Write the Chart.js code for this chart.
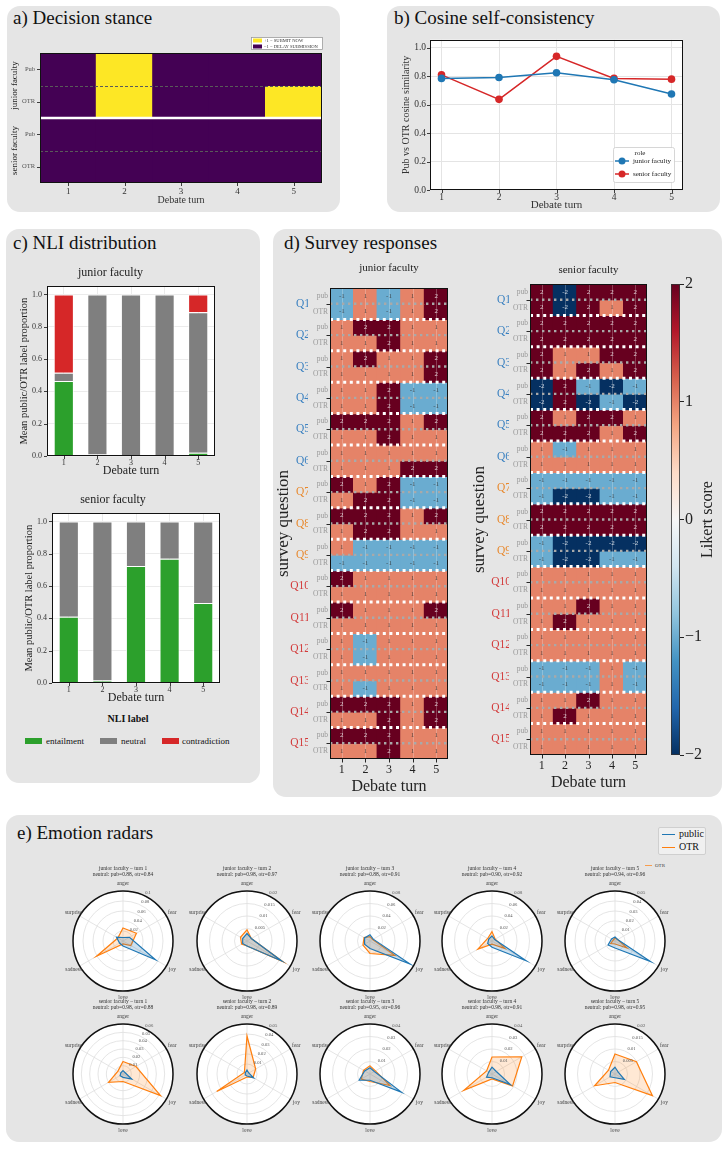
<!DOCTYPE html>
<html><head><meta charset="utf-8"><title>Debate analysis</title>
<script src="https://cdn.jsdelivr.net/npm/chart.js@4.4.1/dist/chart.umd.min.js"></script>
<style>
html,body{margin:0;padding:0;background:#fff;}
body{width:728px;height:1149px;position:relative;overflow:hidden;font-family:"Liberation Serif","DejaVu Serif",serif;color:#111;}
.panel{position:absolute;background:#e5e5e5;border-radius:13px;}
.t{position:absolute;white-space:nowrap;line-height:1;}
.sw{position:absolute;}
canvas{position:absolute;}
</style></head><body>
<div class="panel" style="left:7px;top:6px;width:333px;height:206px"></div>
<div class="panel" style="left:387px;top:6px;width:333px;height:206px"></div>
<div class="panel" style="left:6px;top:229px;width:254px;height:554px"></div>
<div class="panel" style="left:273px;top:229px;width:449px;height:568px"></div>
<div class="panel" style="left:6px;top:815px;width:716px;height:327px"></div>
<div class="t" style="left:13px;top:8px;font-size:19px">a) Decision stance</div>
<div class="t" style="left:394px;top:8px;font-size:19px">b) Cosine self-consistency</div>
<div class="t" style="left:13px;top:233px;font-size:19px">c) NLI distribution</div>
<div class="t" style="left:284px;top:233px;font-size:19px">d) Survey responses</div>
<div class="t" style="left:17px;top:823px;font-size:19px">e) Emotion radars</div>

<div class="t" style="left:78px;top:714px;width:100px;text-align:center;font-size:10px;font-weight:bold">NLI label</div>
<div class="sw" style="left:25px;top:738px;width:17px;height:6px;background:#2ca02c"></div>
<div class="t" style="left:46px;top:736.5px;font-size:9px">entailment</div>
<div class="sw" style="left:100px;top:738px;width:17px;height:6px;background:#7f7f7f"></div>
<div class="t" style="left:121px;top:736.5px;font-size:9px">neutral</div>
<div class="sw" style="left:162px;top:738px;width:17px;height:6px;background:#d62728"></div>
<div class="t" style="left:182px;top:736.5px;font-size:9px">contradiction</div>

<div class="sw" style="left:658px;top:827px;width:48px;height:28px;background:#f0f0f0;border:1px solid #cfcfcf;border-radius:2px;box-sizing:border-box"></div>
<div class="sw" style="left:662px;top:833.5px;width:13px;height:1.6px;background:#1f77b4"></div>
<div class="t" style="left:679px;top:828.5px;font-size:10px">public</div>
<div class="sw" style="left:662px;top:846.5px;width:13px;height:1.6px;background:#ff7f0e"></div>
<div class="t" style="left:679px;top:841.5px;font-size:10px">OTR</div>
<div class="sw" style="left:645px;top:864.5px;width:7px;height:1px;background:#ff7f0e;opacity:0.7"></div>
<div class="t" style="left:655px;top:862.5px;font-size:5px;color:#444">OTR</div>

<script>
// ---------------- data ----------------
const turns = ['1','2','3','4','5'];
const turnNums = [1,2,3,4,5];

// a) decision stance (+1 submit now, -1 delay)
const stanceRowLabels = ['Pub','OTR','Pub','OTR'];
const stanceGroups = ['junior faculty','senior faculty'];
const stanceJuniorPub = [-1, 1, -1, -1, -1];
const stanceJuniorOTR = [-1, 1, -1, -1, 1];
const stanceSeniorPub = [-1, -1, -1, -1, -1];
const stanceSeniorOTR = [-1, -1, -1, -1, -1];

// b) cosine self-consistency
const cosJunior = [0.784, 0.790, 0.824, 0.775, 0.674];
const cosSenior = [0.809, 0.637, 0.939, 0.784, 0.779];
const cosTicks = [0, 0.2, 0.4, 0.6, 0.8, 1.0];

// c) NLI distribution
const nliLabels = ['entailment','neutral','contradiction'];
const nliJuniorEnt = [0.465, 0.01, 0.0, 0.0, 0.02];
const nliJuniorNeu = [0.05, 0.99, 1.0, 1.0, 0.87];
const nliJuniorCon = [0.485, 0.0, 0.0, 0.0, 0.11];
const nliSeniorEnt = [0.41, 0.015, 0.725, 0.77, 0.495];
const nliSeniorNeu = [0.59, 0.985, 0.275, 0.23, 0.505];
const nliSeniorCon = [0, 0, 0, 0, 0];
const nliTicks = [0, 0.2, 0.4, 0.6, 0.8, 1.0];

// d) survey responses (rows Q1..Q15, columns turns 1..5)
const surveyQuestions = ['Q1','Q2','Q3','Q4','Q5','Q6','Q7','Q8','Q9','Q10','Q11','Q12','Q13','Q14','Q15'];
const surveyRowLabels = ['pub','OTR'];
const likertTicks = [-2,-1,0,1,2];
const juniorPub = [
 [-1,1,-1,1,2],[1,2,2,1,1],[1,2,1,1,2],[1,1,2,-1,-1],[2,2,2,1,2],
 [1,1,1,1,1],[2,1,2,-1,-1],[2,2,2,1,2],[1,-1,-1,-1,-1],[2,1,1,1,1],
 [2,1,1,1,2],[1,-1,1,1,1],[1,1,1,1,1],[2,2,2,1,2],[2,2,2,1,1]];
const juniorOTR = [
 [-1,1,-1,1,2],[1,1,2,1,1],[1,1,1,1,2],[1,1,2,-1,-1],[1,1,2,1,1],
 [1,1,1,2,2],[1,2,2,-1,-1],[1,2,2,1,1],[-1,-1,-1,-1,-1],[1,1,1,1,1],
 [1,1,1,1,1],[1,-1,1,1,1],[1,-1,1,1,1],[1,1,2,1,2],[1,1,2,1,1]];
const seniorPub = [
 [2,-2,2,2,2],[2,2,2,2,2],[2,1,1,2,2],[-2,2,-1,-2,-1],[2,1,2,2,1],
 [1,-1,1,1,1],[-1,-1,-1,-1,-1],[2,2,2,2,2],[-1,-2,-2,-2,-2],[1,1,1,1,1],
 [1,1,2,1,1],[1,1,1,1,1],[-1,-1,-1,1,-1],[1,1,2,1,1],[1,1,1,1,1]];
const seniorOTR = [
 [2,-2,2,1,2],[2,2,2,2,2],[2,1,2,1,2],[-2,2,-2,-1,-2],[2,2,2,1,2],
 [1,1,1,1,1],[-1,-2,-2,-1,-1],[2,2,2,2,2],[-1,-2,-2,-1,-1],[1,1,1,1,1],
 [1,2,1,1,1],[1,1,1,1,1],[-1,-1,-1,1,-1],[1,2,1,1,1],[1,1,1,1,1]];

// e) emotion radars
const emotions = ['anger','fear','joy','love','sadness','surprise'];
const radarJuniorPublic = [
 [0.007,0.015,0.075,0.010,0.008,0.015],
 [0.003,0.002,0.016,0.002,0.002,0.002],
 [0.010,0.006,0.074,0.012,0.010,0.010],
 [0.008,0.005,0.063,0.010,0.008,0.006],
 [0.004,0.003,0.041,0.007,0.008,0.004]];
const radarJuniorOTR = [
 [0.026,0.031,0.018,0.006,0.061,0.012],
 [0.0045,0.002,0.0165,0.002,0.0025,0.003],
 [0.007,0.005,0.046,0.020,0.013,0.011],
 [0.015,0.006,0.024,0.005,0.026,0.008],
 [0.003,0.003,0.014,0.003,0.005,0.002]];
const radarSeniorPublic = [
 [0.004,0.003,0.012,0.004,0.004,0.003],
 [0.004,0.002,0.0075,0.002,0.002,0.002],
 [0.005,0.004,0.029,0.005,0.010,0.005],
 [0.0055,0.004,0.017,0.003,0.005,0.003],
 [0.0027,0.0015,0.0043,0.0015,0.0023,0.002]];
const radarSeniorOTR = [
 [0.015,0.018,0.052,0.009,0.020,0.007],
 [0.038,0.010,0.007,0.003,0.035,0.003],
 [0.0065,0.005,0.0185,0.006,0.008,0.006],
 [0.0136,0.0275,0.019,0.004,0.026,0.005],
 [0.008,0.0099,0.0173,0.0034,0.0094,0.003]];
const radarJuniorMax = [0.1, 0.02, 0.08, 0.08, 0.05];
const radarJuniorStep = [0.02, 0.005, 0.02, 0.02, 0.01];
const radarSeniorMax = [0.06, 0.05, 0.04, 0.04, 0.02];
const radarSeniorStep = [0.01, 0.01, 0.01, 0.01, 0.005];
const neutralJuniorPub = [0.88, 0.98, 0.88, 0.90, 0.94];
const neutralJuniorOTR = [0.84, 0.97, 0.91, 0.92, 0.96];
const neutralSeniorPub = [0.98, 0.98, 0.95, 0.98, 0.98];
const neutralSeniorOTR = [0.88, 0.89, 0.96, 0.91, 0.95];

// ---------------- setup ----------------
const SERIF = '"Liberation Serif","DejaVu Serif",serif';
Chart.defaults.font.family = SERIF;
Chart.defaults.color = '#222';
Chart.defaults.animation = false;
Chart.defaults.responsive = false;
Chart.defaults.maintainAspectRatio = false;
Chart.defaults.devicePixelRatio = 1;
Chart.defaults.events = [];
Chart.defaults.plugins.legend.display = false;
Chart.defaults.plugins.tooltip.enabled = false;

function mk(l,t,w,h){const c=document.createElement('canvas');c.width=w;c.height=h;c.style.left=l+'px';c.style.top=t+'px';c.style.width=w+'px';c.style.height=h+'px';document.body.appendChild(c);return c.getContext('2d');}
function ln(ctx,x1,y1,x2,y2){ctx.beginPath();ctx.moveTo(x1,y1);ctx.lineTo(x2,y2);ctx.stroke();}
function boxRect(ctx,a){ctx.strokeRect(Math.round(a.left)+0.5,Math.round(a.top)+0.5,Math.round(a.right)-Math.round(a.left)-1,Math.round(a.bottom)-Math.round(a.top)-1);}
const whiteBg={id:'whiteBg',beforeDraw(ch){const {ctx,chartArea:a}=ch;ctx.save();ctx.fillStyle='#fff';ctx.fillRect(a.left,a.top,a.width,a.height);ctx.restore();}};
const frame={id:'frame',afterDraw(ch){const {ctx,chartArea:a}=ch;ctx.save();ctx.strokeStyle='#111';ctx.lineWidth=1;boxRect(ctx,a);ctx.restore();}};
function tickMarks(xId,yId,len){return {id:'tickMarks',afterDraw(ch){const {ctx,chartArea:a}=ch;ctx.save();ctx.strokeStyle='#111';ctx.lineWidth=0.8;
 if(xId){const s=ch.scales[xId];s.ticks.forEach((t,i)=>{const p=Math.round(s.getPixelForTick(i))+0.5;ln(ctx,p,a.bottom,p,a.bottom+len);});}
 if(yId){const s=ch.scales[yId];s.ticks.forEach((t,i)=>{const p=Math.round(s.getPixelForTick(i))+0.5;ln(ctx,a.left,p,a.left-len,p);});}
 ctx.restore();}};}

// ---------------- a) Decision stance ----------------
const stanceRows=[stanceJuniorPub,stanceJuniorOTR,stanceSeniorPub,stanceSeniorOTR];
const stanceColor=v=>v>0?'#fde725':'#440154';
new Chart(mk(8,30,330,182),{type:'bar',
 data:{labels:turns,datasets:stanceRows.map((vals,r)=>({data:vals.map(()=>[r,r+1]),backgroundColor:vals.map(stanceColor),borderWidth:0,grouped:false,barPercentage:1,categoryPercentage:1,inflateAmount:0.6}))},
 options:{layout:{padding:{top:23,right:16,left:0,bottom:0}},
  scales:{
   x:{z:1,grid:{color:'rgba(255,255,255,0.28)',lineWidth:1,drawTicks:false,offset:true},border:{display:false},
      ticks:{font:{size:9},color:'#333',padding:3},
      title:{display:true,text:'Debate turn',font:{size:10},color:'#333',padding:{top:0,bottom:6}},
      afterFit(s){s.height=29;}},
   y:{min:0,max:4,reverse:true,grid:{display:false,drawTicks:false},border:{display:false},
      afterBuildTicks(s){s.ticks=[0.5,1.5,2.5,3.5].map(v=>({value:v}));},
      ticks:{callback:(v,i)=>stanceRowLabels[i],font:{size:6.5},color:'#555',padding:5,autoSkip:false},
      afterFit(s){s.width=32;}}
  }},
 plugins:[tickMarks('x','y',3),{id:'stanceDeco',afterDraw(ch){const {ctx,chartArea:a,scales:{y}}=ch;ctx.save();
  ctx.strokeStyle='#5a5a5a';ctx.lineWidth=1;ctx.setLineDash([3,2]);
  [1,3].forEach(v=>{const p=Math.round(y.getPixelForValue(v))+0.5;ln(ctx,a.left,p,a.right,p);});
  ctx.setLineDash([]);ctx.strokeStyle='#fff';ctx.lineWidth=2.5;const sp=y.getPixelForValue(2);ln(ctx,a.left,sp,a.right,sp);
  ctx.strokeStyle='#111';ctx.lineWidth=1;boxRect(ctx,a);
  ctx.fillStyle='#222';ctx.font='9px '+SERIF;ctx.textAlign='center';ctx.textBaseline='middle';
  stanceGroups.forEach((g,i)=>{const cy=(y.getPixelForValue(2*i)+y.getPixelForValue(2*i+2))/2;ctx.save();ctx.translate(7,cy);ctx.rotate(-Math.PI/2);ctx.fillText(g,0,0);ctx.restore();});
  const lx=243,ly=7;ctx.fillStyle='#fff';ctx.fillRect(lx,ly,72,13);ctx.strokeStyle='#999';ctx.lineWidth=0.8;ctx.strokeRect(lx+0.5,ly+0.5,71,12);
  ctx.fillStyle='#fde725';ctx.fillRect(lx+2,ly+1.5,9,4);ctx.fillStyle='#440154';ctx.fillRect(lx+2,ly+7.5,9,4);
  ctx.fillStyle='#333';ctx.font='4.6px '+SERIF;ctx.textAlign='left';ctx.fillText('+1 = SUBMIT NOW',lx+13,ly+3.6);ctx.fillText('\u22121 = DELAY SUBMISSION',lx+13,ly+9.6);
  ctx.restore();}}]
});

// ---------------- b) Cosine ----------------
new Chart(mk(387,30,333,182),{type:'line',
 data:{datasets:[
  {label:'junior faculty',data:turnNums.map((t,i)=>({x:t,y:cosJunior[i]})),borderColor:'#1f77b4',backgroundColor:'#1f77b4',borderWidth:1.5,pointRadius:3.8,pointBorderWidth:0},
  {label:'senior faculty',data:turnNums.map((t,i)=>({x:t,y:cosSenior[i]})),borderColor:'#d62728',backgroundColor:'#d62728',borderWidth:1.5,pointRadius:3.8,pointBorderWidth:0}]},
 options:{layout:{padding:{top:4,right:37,left:0,bottom:0}},
  scales:{
   x:{type:'linear',min:0.8,max:5.2,afterBuildTicks(s){s.ticks=turnNums.map(v=>({value:v}));},ticks:{font:{size:9.5},color:'#333',padding:2,callback:v=>String(v)},grid:{color:'#e4e4e4',drawTicks:false},border:{display:false},
      title:{display:true,text:'Debate turn',font:{size:11},color:'#333',padding:{top:0,bottom:0}},afterFit(s){s.height=22;}},
   y:{min:0,max:1.056,afterBuildTicks(s){s.ticks=cosTicks.map(v=>({value:v}));},ticks:{callback:v=>v.toFixed(1),font:{size:9.5},color:'#333',padding:4},grid:{color:'#e4e4e4',drawTicks:false},border:{display:false},
      title:{display:true,text:'Pub vs OTR cosine similarity',font:{size:10},color:'#333',padding:{top:13,bottom:0}},afterFit(s){s.width=43;}}
  }},
 plugins:[whiteBg,frame,tickMarks('x','y',3),{id:'legB',afterDraw(ch){const ctx=ch.ctx;ctx.save();const bx=226,by=117;
  ctx.fillStyle='rgba(255,255,255,0.92)';ctx.strokeStyle='#cccccc';ctx.lineWidth=0.8;ctx.beginPath();ctx.roundRect(bx+0.5,by+0.5,61,35,2);ctx.fill();ctx.stroke();
  ctx.fillStyle='#222';ctx.font='7px '+SERIF;ctx.textAlign='center';ctx.textBaseline='middle';ctx.fillText('role',bx+27,by+6);
  ch.data.datasets.forEach((d,i)=>{const yy=by+14+i*13;ctx.strokeStyle=d.borderColor;ctx.lineWidth=1.5;ln(ctx,bx+2,yy,bx+16,yy);ctx.fillStyle=d.borderColor;ctx.beginPath();ctx.arc(bx+9,yy,3.5,0,2*Math.PI);ctx.fill();ctx.fillStyle='#222';ctx.textAlign='left';ctx.fillText(d.label,bx+20,yy);});
  ctx.restore();}}]
});

// ---------------- c) NLI ----------------
function nliChart(l,t,title,ent,neu,con,yW,padR,yTitlePad){
 const vals=[ent,neu,con],cols=['#2ca02c','#7f7f7f','#d62728'];
 new Chart(mk(l,t,254,218),{type:'bar',
  data:{labels:turns,datasets:vals.map((d,i)=>({label:nliLabels[i],data:d,backgroundColor:cols[i],borderColor:'rgba(255,255,255,0.85)',borderWidth:1,barPercentage:0.6,categoryPercentage:1}))},
  options:{layout:{padding:{top:0,right:padR,left:0,bottom:0}},
   plugins:{title:{display:true,text:title,font:{size:12,weight:'normal'},color:'#222',padding:{top:4,bottom:6}}},
   scales:{
    x:{stacked:true,grid:{color:'#ebebeb',offset:false,drawTicks:false},border:{display:false},ticks:{font:{size:8},color:'#333',padding:2},
       title:{display:true,text:'Debate turn',font:{size:12},color:'#222',padding:{top:0,bottom:1.8}},afterFit(s){s.height=24;}},
    y:{stacked:true,min:0,max:1.05,afterBuildTicks(s){s.ticks=nliTicks.map(v=>({value:v}));},ticks:{callback:v=>v.toFixed(1),font:{size:8},color:'#333',padding:5},grid:{color:'#ebebeb',drawTicks:false},border:{display:false},
       title:{display:true,text:'Mean public/OTR label proportion',font:{size:10.5},color:'#222',padding:{top:yTitlePad,bottom:0}},afterFit(s){s.width=yW;}}
   }},
  plugins:[whiteBg,frame,tickMarks('x','y',3)]});
}
nliChart(6,262,'junior faculty',nliJuniorEnt,nliJuniorNeu,nliJuniorCon,41,45,11.7);
nliChart(6,489,'senior faculty',nliSeniorEnt,nliSeniorNeu,nliSeniorCon,46,40,16.7);

// ---------------- d) Survey ----------------
const likertPalette={'-2':'#053061','-1':'#6aacd0','0':'#f7f7f7','1':'#e58368','2':'#67001f'};
const likertColor=v=>likertPalette[String(v)];
const qColor=i=>i<6?'#3a80c0':(i<9?'#e8892e':'#d33a3a');
function surveyChart(l,t,w,title,titleOff,pub,otr,yW,yqW,padR){
 const rows=[];pub.forEach((r,q)=>{rows.push(r);rows.push(otr[q]);});
 new Chart(mk(l,t,w,548),{type:'bar',
  data:{labels:turns,datasets:rows.map((vals,r)=>({data:vals.map(()=>[r,r+1]),values:vals,backgroundColor:vals.map(likertColor),borderWidth:0,grouped:false,barPercentage:1,categoryPercentage:1,inflateAmount:0.6}))},
  options:{layout:{padding:{top:38,right:padR,left:0,bottom:0}},
   scales:{
    x:{grid:{display:false,drawTicks:false},border:{display:false},ticks:{font:{size:12},color:'#222',padding:4},
       title:{display:true,text:'Debate turn',font:{size:16},color:'#222',padding:{top:0,bottom:1.4}},afterFit(s){s.height=39;}},
    y:{min:0,max:30,reverse:true,weight:0,grid:{display:false,drawTicks:false},border:{display:false},
       afterBuildTicks(s){s.ticks=rows.map((_,i)=>({value:i+0.5}));},
       ticks:{callback:(v,i)=>surveyRowLabels[i%2],font:{size:7.5},color:'#999',padding:2,autoSkip:false},afterFit(s){s.width=yW;}},
    yq:{position:'left',min:0,max:30,reverse:true,weight:1,grid:{display:false,drawTicks:false},border:{display:false},
       afterBuildTicks(s){s.ticks=surveyQuestions.map((_,i)=>({value:2*i+1}));},
       ticks:{callback:(v,i)=>surveyQuestions[i],font:{size:11.5},color:c=>qColor(c.index),padding:-2,autoSkip:false},
       title:{display:true,text:'survey question',font:{size:17},color:'#222',padding:{top:0,bottom:0}},afterFit(s){s.width=yqW;}}
   }},
  plugins:[{id:'surveyDeco',afterDatasetsDraw(ch){const {ctx,chartArea:a,scales:{x,y}}=ch;ctx.save();
   ctx.strokeStyle='rgba(255,255,255,0.3)';ctx.lineWidth=0.8;
   x.ticks.forEach((tk,i)=>{const p=Math.round(x.getPixelForTick(i))+0.5;ln(ctx,p,a.top,p,a.bottom);});
   ctx.strokeStyle='#a9a9a9';ctx.lineWidth=2.4;ctx.setLineDash([2.4,3.6]);
   for(let q=0;q<15;q++){const p=y.getPixelForValue(2*q+1);ln(ctx,a.left,p,a.right,p);}
   ctx.strokeStyle='#fff';ctx.lineWidth=3;ctx.setLineDash([3,3.6]);
   for(let q=1;q<15;q++){const p=y.getPixelForValue(2*q);ln(ctx,a.left,p,a.right,p);}
   ctx.setLineDash([]);
   ctx.font='7px '+SERIF;ctx.textAlign='center';ctx.textBaseline='middle';
   ch.data.datasets.forEach((ds,di)=>{ch.getDatasetMeta(di).data.forEach((el,j)=>{const v=ds.values[j];ctx.fillStyle=Math.abs(v)>1?'rgba(255,255,255,0.78)':'rgba(50,50,50,0.8)';ctx.fillText(String(v),el.x,(el.y+el.base)/2);});});
   ctx.strokeStyle='#111';ctx.lineWidth=1;boxRect(ctx,a);
   ctx.lineWidth=0.9;for(let q=0;q<15;q++){const p=Math.round(y.getPixelForValue(2*q+1))+0.5;ln(ctx,a.left-3.5,p,a.left,p);}
   x.ticks.forEach((tk,i)=>{const p=Math.round(x.getPixelForTick(i))+0.5;ln(ctx,p,a.bottom,p,a.bottom+3.5);});
   ctx.fillStyle='#222';ctx.font='11px '+SERIF;ctx.fillText(title,(a.left+a.right)/2,a.top-titleOff);
   ctx.restore();}}]
 });
}
surveyChart(273,250,180,'junior faculty',20,juniorPub,juniorOTR,22,35,5);
surveyChart(469,246,183,'senior faculty',14,seniorPub,seniorOTR,21,40,5);

// colorbar
const rdbuR=['#053061','#2166ac','#4393c3','#92c5de','#d1e5f0','#f7f7f7','#fddbc7','#f4a582','#d6604d','#b2182b','#67001f'];
new Chart(mk(650,270,72,500),{type:'bar',data:{labels:[''],datasets:[]},
 options:{layout:{padding:{left:21,top:14,bottom:15,right:0}},
  scales:{x:{display:false},
   y:{position:'right',min:-2,max:2,afterBuildTicks(s){s.ticks=likertTicks.map(v=>({value:v}));},ticks:{callback:v=>(v<0?'\u2212':'')+Math.abs(v),font:{size:16},color:'#222',padding:1},
      grid:{drawOnChartArea:false,drawTicks:true,tickLength:4,color:'#222',lineWidth:1},border:{display:false},afterFit(s){s.width=42;}}}},
 plugins:[{id:'cbar',beforeDatasetsDraw(ch){const {ctx,chartArea:a,scales:{y}}=ch;ctx.save();
   const g=ctx.createLinearGradient(0,y.getPixelForValue(-2),0,y.getPixelForValue(2));rdbuR.forEach((c,i)=>g.addColorStop(i/10,c));
   ctx.fillStyle=g;ctx.fillRect(a.left,a.top,a.width,a.height);ctx.strokeStyle='#333';ctx.lineWidth=0.8;boxRect(ctx,a);ctx.restore();},
  afterDraw(ch){const ctx=ch.ctx,a=ch.chartArea;ctx.save();ctx.fillStyle='#222';ctx.font='16px '+SERIF;ctx.textAlign='center';ctx.textBaseline='middle';ctx.translate(58,(a.top+a.bottom)/2);ctx.rotate(-Math.PI/2);ctx.fillText('Likert score',0,0);ctx.restore();}}]
});

// ---------------- e) Radars ----------------
const radarCx=[123,247,370,492,615];
const radarCy=[941,1074];
function fmtTick(v){return String(Number(v.toFixed(4)));}
function radarChart(cx,cy,group,turn,pubVals,otrVals,max,step,nPub,nOtr){
 new Chart(mk(cx-75,cy-75,150,150),{type:'radar',
  data:{labels:emotions,datasets:[
   {label:'public',data:pubVals,borderColor:'#1f77b4',backgroundColor:'rgba(31,119,180,0.22)',borderWidth:1.2,pointRadius:0,fill:true},
   {label:'OTR',data:otrVals,borderColor:'#ff7f0e',backgroundColor:'rgba(255,127,14,0.18)',borderWidth:1.2,pointRadius:0,fill:true}]},
  options:{layout:{padding:25},elements:{line:{tension:0}},
   scales:{r:{min:0,max:max,ticks:{display:false,stepSize:step,showLabelBackdrop:false},pointLabels:{display:false},
     grid:{circular:true,color:'#dedede',lineWidth:0.8},angleLines:{color:'#dedede',lineWidth:0.8}}}},
  plugins:[{id:'rbg',beforeDraw(ch){const s=ch.scales.r,ctx=ch.ctx;ctx.save();ctx.fillStyle='#fff';ctx.beginPath();ctx.arc(s.xCenter,s.yCenter,s.drawingArea,0,2*Math.PI);ctx.fill();ctx.restore();}},
   {id:'rdeco',afterDraw(ch){const s=ch.scales.r,ctx=ch.ctx;ctx.save();
    ctx.strokeStyle='#111';ctx.lineWidth=1.5;ctx.beginPath();ctx.arc(s.xCenter,s.yCenter,s.drawingArea,0,2*Math.PI);ctx.stroke();
    ctx.fillStyle='#444';ctx.font='5.5px '+SERIF;ctx.textAlign='center';ctx.textBaseline='middle';
    emotions.forEach((e,i)=>{const p=s.getPointPosition(i,s.drawingArea+7);ctx.fillText(e,p.x,p.y);});
    ctx.font='4.6px '+SERIF;ctx.textAlign='left';ctx.fillStyle='#555';
    const ang=22.5*Math.PI/180;
    s.ticks.forEach(tk=>{if(tk.value<=0)return;const r=s.getDistanceFromCenterForValue(tk.value);ctx.fillText(fmtTick(tk.value),s.xCenter+r*Math.sin(ang)+3,s.yCenter-r*Math.cos(ang)-2);});
    ctx.fillStyle='#333';ctx.font='5.5px '+SERIF;ctx.textAlign='center';
    ctx.fillText(group+' \u2013 turn '+turn,s.xCenter,s.yCenter-72);
    ctx.fillText('neutral: pub='+nPub.toFixed(2)+', otr='+nOtr.toFixed(2),s.xCenter,s.yCenter-66.5);
    ctx.restore();}}]
 });
}
for(let i=0;i<5;i++){
 radarChart(radarCx[i],radarCy[0],'junior faculty',i+1,radarJuniorPublic[i],radarJuniorOTR[i],radarJuniorMax[i],radarJuniorStep[i],neutralJuniorPub[i],neutralJuniorOTR[i]);
 radarChart(radarCx[i],radarCy[1],'senior faculty',i+1,radarSeniorPublic[i],radarSeniorOTR[i],radarSeniorMax[i],radarSeniorStep[i],neutralSeniorPub[i],neutralSeniorOTR[i]);
}
</script>
</body></html>
